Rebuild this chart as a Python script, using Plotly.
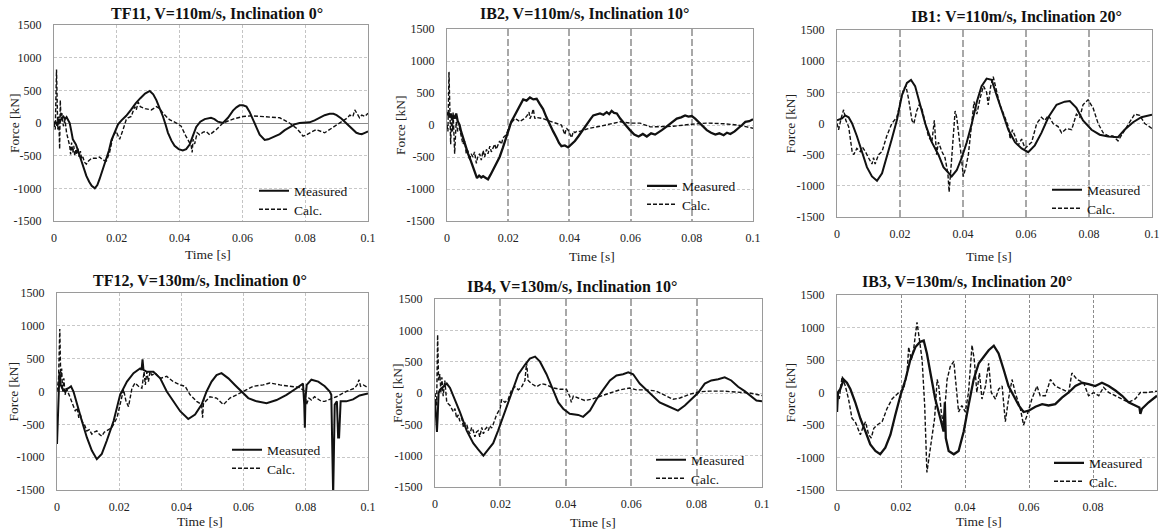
import plotly.graph_objects as go

W, H = 1163, 532

# ---------------- DATA ----------------
x_tick_vals = [0, 0.02, 0.04, 0.06, 0.08, 0.1]
x_tick_labels = ["0", "0.02", "0.04", "0.06", "0.08", "0.1"]
y_tick_vals = [-1500, -1000, -500, 0, 500, 1000, 1500]
y_tick_labels = ["-1500", "-1000", "-500", "0", "500", "1000", "1500"]

titles = ["TF11, V=110m/s, Inclination 0°", "IB2, V=110m/s, Inclination 10°",
          "IB1: V=110m/s, Inclination 20°", "TF12, V=130m/s, Inclination 0°",
          "IB4, V=130m/s, Inclination 10°", "IB3, V=130m/s, Inclination 20°"]
series_names = ["Measured", "Calc."]

# TF11
tf11_meas_t = [0, 0.0005, 0.001, 0.0015, 0.002, 0.0025, 0.003, 0.0035, 0.004, 0.0045, 0.005, 0.0055, 0.006, 0.007, 0.0078, 0.0087, 0.0095, 0.0103, 0.0112, 0.012, 0.013, 0.0138, 0.0145, 0.0156, 0.0167, 0.0175, 0.0183, 0.0194, 0.0204, 0.0215, 0.023, 0.0245, 0.026, 0.0275, 0.029, 0.0305, 0.0316, 0.0326, 0.0337, 0.0347, 0.0355, 0.0363, 0.0374, 0.0384, 0.0397, 0.041, 0.0421, 0.0432, 0.0442, 0.0453, 0.0466, 0.048, 0.050, 0.0511, 0.0522, 0.0538, 0.0554, 0.057, 0.0581, 0.0591, 0.0602, 0.0613, 0.0623, 0.0634, 0.0645, 0.0655, 0.0671, 0.0682, 0.0692, 0.0705, 0.0719, 0.0735, 0.075, 0.0766, 0.0782, 0.0798, 0.0814, 0.083, 0.0846, 0.0862, 0.0878, 0.089, 0.09, 0.0915, 0.093, 0.0946, 0.0963, 0.0972, 0.098, 0.099, 0.1]
tf11_meas_f = [0, 20, -40, 60, 30, 80, 100, 60, 90, 40, 0, -120, -250, -330, -450, -560, -690, -810, -900, -960, -1000, -950, -860, -700, -560, -420, -260, -120, -20, 40, 110, 200, 300, 380, 450, 490, 440, 350, 230, 100, -20, -150, -270, -350, -400, -420, -400, -330, -200, -60, 20, 60, 80, 60, 20, 0, 80, 190, 240, 270, 270, 250, 170, 60, -70, -180, -260, -250, -230, -200, -170, -110, -60, -20, 0, 5, 10, 40, 80, 120, 140, 140, 120, 70, 0, -70, -150, -165, -170, -150, -130]
tf11_calc_t = [0, 0.0004, 0.0008, 0.001, 0.0012, 0.0015, 0.0018, 0.002, 0.0022, 0.0025, 0.003, 0.0035, 0.004, 0.0045, 0.005, 0.0053, 0.0056, 0.006, 0.0063, 0.0066, 0.007, 0.0073, 0.0076, 0.008, 0.0084, 0.0088, 0.0092, 0.0097, 0.0103, 0.011, 0.012, 0.0135, 0.0145, 0.0156, 0.0167, 0.0177, 0.0188, 0.0198, 0.0209, 0.022, 0.023, 0.0236, 0.0246, 0.0257, 0.0262, 0.0268, 0.0275, 0.029, 0.031, 0.0326, 0.0337, 0.0347, 0.0368, 0.039, 0.0405, 0.042, 0.043, 0.0437, 0.044, 0.0443, 0.0448, 0.0456, 0.0464, 0.0475, 0.0485, 0.0496, 0.0517, 0.0538, 0.057, 0.0602, 0.063, 0.0676, 0.0719, 0.075, 0.0772, 0.0785, 0.0793, 0.0804, 0.0814, 0.0835, 0.0862, 0.0883, 0.091, 0.0935, 0.0942, 0.0952, 0.0958, 0.0965, 0.0973, 0.098, 0.099, 0.1]
tf11_calc_f = [0, -100, 820, 200, -100, 100, -400, 350, 100, 150, -50, 50, -150, -250, -350, -480, -300, -450, -350, -500, -400, -480, -380, -520, -430, -550, -520, -600, -630, -580, -540, -540, -520, -570, -580, -450, -200, -130, -250, -100, 50, 80, 100, 250, 200, 320, 250, 220, 200, 250, 220, 150, 50, 0, -50, -200, -280, -350, -450, -250, -320, -150, -180, -140, -130, -180, -100, 0, 60, 100, 110, 100, 80, 0, -80, -150, -200, -180, -150, -100, -150, -80, 0, 80, 120, 100, 200, 150, 80, 120, 100, 150]

# IB2
ib2_meas_t = [0, 0.0005, 0.0009, 0.0013, 0.0017, 0.002, 0.0025, 0.003, 0.0035, 0.0041, 0.0046, 0.0052, 0.006, 0.0069, 0.0077, 0.0085, 0.0092, 0.0098, 0.0105, 0.0112, 0.0118, 0.0126, 0.0134, 0.0142, 0.015, 0.016, 0.0172, 0.0183, 0.0194, 0.0202, 0.021, 0.0218, 0.0227, 0.0238, 0.0249, 0.026, 0.0271, 0.0282, 0.0293, 0.0303, 0.0314, 0.0325, 0.0336, 0.0347, 0.0358, 0.0366, 0.0374, 0.0385, 0.0396, 0.0407, 0.0418, 0.0429, 0.044, 0.0451, 0.0462, 0.047, 0.0478, 0.0489, 0.05, 0.0511, 0.0522, 0.053, 0.0538, 0.0546, 0.0555, 0.0566, 0.0576, 0.0587, 0.0598, 0.0612, 0.0626, 0.064, 0.0653, 0.0667, 0.068, 0.0691, 0.0702, 0.0713, 0.0724, 0.0738, 0.0751, 0.0765, 0.0778, 0.0789, 0.08, 0.0811, 0.0822, 0.0835, 0.0849, 0.0863, 0.0877, 0.089, 0.0904, 0.0915, 0.0926, 0.094, 0.0953, 0.0964, 0.0975, 0.0988, 0.1]
ib2_meas_f = [150, 200, 120, 180, 90, 150, 100, 180, 60, 0, -100, -200, -320, -450, -550, -650, -750, -830, -790, -820, -800, -830, -850, -780, -700, -620, -500, -350, -200, -80, 50, 120, 200, 300, 400, 380, 430, 400, 410, 330, 250, 120, 0, -100, -200, -280, -330, -320, -350, -300, -250, -180, -100, -40, 50, 100, 150, 170, 180, 160, 200, 170, 220, 190, 180, 100, 50, -20, -80, -150, -180, -140, -180, -130, -150, -120, -80, -40, 0, 60, 100, 120, 150, 130, 140, 100, 50, -20, -80, -120, -150, -130, -160, -120, -140, -100, -50, 0, 50, 60, 90]
ib2_calc_t = [0, 0.0003, 0.00065, 0.001, 0.0012, 0.0015, 0.0018, 0.002, 0.0025, 0.003, 0.0035, 0.0041, 0.0047, 0.0052, 0.0058, 0.0063, 0.0068, 0.0074, 0.0079, 0.0085, 0.009, 0.0096, 0.0101, 0.0107, 0.0112, 0.0118, 0.0123, 0.0129, 0.0134, 0.014, 0.0145, 0.015, 0.0156, 0.0161, 0.0167, 0.0172, 0.0178, 0.0183, 0.0194, 0.0205, 0.0213, 0.0222, 0.023, 0.0238, 0.0246, 0.0254, 0.0262, 0.0268, 0.0271, 0.0276, 0.0282, 0.0287, 0.029, 0.0298, 0.0314, 0.0336, 0.0358, 0.0374, 0.0385, 0.039, 0.0396, 0.0402, 0.0407, 0.0413, 0.0418, 0.0424, 0.0435, 0.0445, 0.0467, 0.05, 0.0533, 0.0566, 0.0598, 0.0631, 0.0664, 0.0697, 0.074, 0.0795, 0.0849, 0.0904, 0.0948, 0.098, 0.1]
ib2_calc_f = [0, -100, 830, 100, -300, 150, -100, 200, -450, 50, -100, -50, -200, -300, -250, -450, -400, -550, -450, -500, -420, -600, -480, -450, -550, -400, -500, -380, -450, -330, -420, -350, -300, -380, -300, -250, -300, -200, -150, 0, 50, 100, 80, 50, 80, 100, 150, 200, 100, 150, 250, 100, 120, 110, 100, 60, 30, 0, -150, -50, -80, -150, -200, -100, -120, -100, -100, -80, -50, -20, 20, 50, 30, 30, -30, -30, -20, 10, 30, 20, 0, -30, -50]

# IB1
ib1_meas_t = [0, 0.0016, 0.0026, 0.0037, 0.0048, 0.0063, 0.0079, 0.0095, 0.0111, 0.0127, 0.0143, 0.0158, 0.0174, 0.019, 0.0206, 0.0222, 0.0235, 0.0248, 0.0264, 0.028, 0.0301, 0.0322, 0.0338, 0.0354, 0.0364, 0.038, 0.0396, 0.0412, 0.0428, 0.0444, 0.0459, 0.0475, 0.0491, 0.0507, 0.0523, 0.0544, 0.0565, 0.0586, 0.0607, 0.0628, 0.0649, 0.0671, 0.0697, 0.0723, 0.0739, 0.076, 0.0781, 0.0808, 0.0834, 0.0861, 0.0892, 0.0913, 0.094, 0.0966, 0.1]
ib1_meas_f = [50, 80, 130, 100, 0, -200, -450, -700, -850, -920, -800, -550, -250, 50, 450, 650, 700, 600, 300, 0, -300, -500, -700, -800, -850, -750, -550, -300, 0, 350, 600, 720, 700, 450, 200, -100, -300, -400, -460, -350, -150, 100, 300, 350, 360, 250, 50, -100, -180, -210, -220, -100, 20, 100, 140]
ib1_calc_t = [0, 0.0005, 0.0014, 0.0021, 0.0028, 0.0037, 0.0048, 0.0053, 0.0063, 0.0074, 0.0081, 0.009, 0.01, 0.0111, 0.0116, 0.0121, 0.0132, 0.0143, 0.0158, 0.0174, 0.019, 0.02, 0.0211, 0.0219, 0.0227, 0.0238, 0.0244, 0.0253, 0.0261, 0.0269, 0.028, 0.029, 0.0301, 0.0309, 0.0316, 0.0322, 0.0333, 0.0343, 0.0352, 0.0356, 0.0362, 0.037, 0.0375, 0.038, 0.0388, 0.0394, 0.0401, 0.0409, 0.0417, 0.0428, 0.0435, 0.0444, 0.0454, 0.0465, 0.0475, 0.048, 0.0488, 0.0496, 0.0507, 0.0517, 0.0533, 0.0544, 0.055, 0.0557, 0.0565, 0.0575, 0.0586, 0.0597, 0.0607, 0.0618, 0.0634, 0.0649, 0.066, 0.0671, 0.0686, 0.0702, 0.0713, 0.0729, 0.0745, 0.076, 0.0771, 0.0781, 0.0797, 0.0813, 0.0829, 0.0845, 0.0861, 0.0876, 0.0892, 0.0908, 0.0924, 0.0945, 0.0961, 0.0977, 0.1]
ib1_calc_f = [0, -100, 100, 220, 50, -50, -450, -500, -400, -450, -380, -450, -550, -650, -550, -650, -500, -450, -200, 0, 100, 300, 550, 600, 400, 50, 0, 200, 300, 250, 0, -200, -300, 50, -500, -300, -450, -550, -800, -1100, -700, -200, 200, 100, -200, -500, -850, -700, -500, 0, 350, 150, 400, 600, 500, 300, 600, 750, 500, 300, 100, -50, -250, -100, -200, -350, -250, -400, -350, -300, 0, 100, 50, 130, 0, -50, -150, -80, -100, 150, 100, 300, 380, 250, 0, -150, -200, -200, -280, -150, 0, 150, 130, 0, -80]

# TF12
tf12_meas_t = [0, 0.0002, 0.0005, 0.0008, 0.0012, 0.0016, 0.002, 0.0027, 0.0032, 0.0037, 0.0045, 0.0053, 0.0064, 0.008, 0.0096, 0.0112, 0.0128, 0.0144, 0.016, 0.0182, 0.0203, 0.0225, 0.0246, 0.0267, 0.0272, 0.0275, 0.0278, 0.0289, 0.031, 0.0332, 0.0353, 0.0374, 0.0396, 0.0422, 0.0444, 0.0465, 0.0481, 0.0497, 0.0513, 0.0529, 0.0551, 0.0572, 0.0594, 0.0615, 0.0642, 0.0674, 0.0706, 0.0738, 0.077, 0.0791, 0.0795, 0.0797, 0.0799, 0.0803, 0.0818, 0.084, 0.0861, 0.0877, 0.0882, 0.0885, 0.0888, 0.0893, 0.09, 0.0904, 0.0907, 0.0912, 0.093, 0.0952, 0.0973, 0.1]
tf12_meas_f = [-800, -500, 0, 300, 100, 50, 20, 0, 40, 50, 80, 0, -200, -450, -700, -900, -1030, -950, -750, -450, -50, 150, 280, 350, 330, 490, 330, 300, 300, 200, 0, -150, -300, -420, -350, -200, 0, 150, 250, 280, 200, 100, 0, -100, -150, -180, -130, -50, 50, 120, -200, -550, -100, 100, 180, 150, 80, 0, -50, -1600, -1600, -200, -150, -700, -700, -150, -150, -120, -60, -30]
tf12_calc_t = [0, 0.0005, 0.0009, 0.0012, 0.0015, 0.0018, 0.0022, 0.0026, 0.003, 0.0035, 0.0043, 0.0051, 0.0059, 0.0065, 0.007, 0.0075, 0.008, 0.0088, 0.0096, 0.0104, 0.0112, 0.012, 0.0128, 0.0136, 0.0144, 0.0152, 0.016, 0.0176, 0.0193, 0.0203, 0.0214, 0.0222, 0.023, 0.0241, 0.0251, 0.0262, 0.0273, 0.028, 0.0284, 0.0289, 0.0294, 0.0299, 0.0305, 0.0316, 0.0332, 0.0353, 0.0374, 0.0396, 0.0412, 0.0428, 0.0449, 0.0465, 0.0468, 0.0472, 0.0478, 0.0492, 0.0513, 0.0535, 0.0556, 0.0578, 0.0599, 0.0631, 0.0663, 0.0684, 0.0717, 0.0749, 0.0781, 0.0797, 0.0802, 0.081, 0.0818, 0.0828, 0.084, 0.085, 0.0861, 0.0877, 0.0898, 0.093, 0.0957, 0.0965, 0.0971, 0.0976, 0.0985, 0.1]
tf12_calc_f = [0, 200, 950, 200, 350, 0, 200, -50, 50, 0, -100, -200, -300, -250, -400, -350, -450, -500, -600, -580, -650, -620, -600, -650, -680, -620, -600, -550, -400, -200, 30, -150, -230, 50, 130, 80, 50, 300, 100, 300, 150, 300, 250, 280, 200, 230, 150, 100, 80, -50, -150, -200, -400, -100, -150, -80, -100, -200, -100, -50, 0, 80, 100, 130, 100, 80, 60, 0, -200, -100, -130, -80, -120, -150, -150, -120, -80, 0, 50, 100, 180, 80, 100, 60]

# IB4
ib4_meas_t = [0, 0.0003, 0.0006, 0.0008, 0.0011, 0.0015, 0.0025, 0.0036, 0.0046, 0.0061, 0.0076, 0.0097, 0.0117, 0.0132, 0.0148, 0.0163, 0.0178, 0.0193, 0.0214, 0.0234, 0.0255, 0.0275, 0.029, 0.0306, 0.0321, 0.0341, 0.0362, 0.0377, 0.0392, 0.0412, 0.0438, 0.0453, 0.0474, 0.0494, 0.0514, 0.0535, 0.0555, 0.0575, 0.0591, 0.0606, 0.0626, 0.0647, 0.0667, 0.0687, 0.0708, 0.0728, 0.0743, 0.0764, 0.0784, 0.0804, 0.0825, 0.0845, 0.0866, 0.0886, 0.0906, 0.0927, 0.0947, 0.0967, 0.0983, 0.1]
ib4_meas_f = [-100, -500, -620, -400, 0, 50, 100, 150, 80, -100, -300, -600, -800, -900, -1000, -900, -800, -600, -300, 0, 300, 450, 550, 580, 500, 300, 50, -150, -250, -330, -350, -380, -280, -100, 50, 200, 280, 300, 330, 300, 150, 50, -50, -150, -200, -250, -280, -200, -100, 0, 150, 200, 220, 250, 200, 100, 30, -50, -120, -130]
ib4_calc_t = [0, 0.0005, 0.0008, 0.0011, 0.0015, 0.0018, 0.0021, 0.0025, 0.003, 0.0036, 0.0046, 0.0056, 0.0061, 0.0066, 0.0071, 0.0076, 0.0082, 0.0087, 0.0092, 0.0097, 0.0102, 0.0107, 0.0112, 0.0117, 0.0122, 0.0127, 0.0132, 0.0137, 0.0143, 0.0148, 0.0153, 0.0158, 0.0163, 0.0168, 0.0173, 0.0178, 0.0188, 0.0199, 0.0204, 0.0214, 0.0224, 0.0234, 0.0244, 0.0255, 0.0265, 0.0275, 0.028, 0.0285, 0.0295, 0.0311, 0.0326, 0.0341, 0.0362, 0.0382, 0.0402, 0.0412, 0.0417, 0.0423, 0.0438, 0.0458, 0.0479, 0.0504, 0.0535, 0.0565, 0.0596, 0.0616, 0.0647, 0.0677, 0.0708, 0.0728, 0.0749, 0.0779, 0.081, 0.084, 0.0881, 0.0921, 0.0962, 0.1]
ib4_calc_f = [0, -200, 930, 200, 300, 0, 250, -50, 200, -150, -200, -300, -250, -400, -350, -450, -400, -550, -480, -500, -600, -650, -550, -600, -700, -620, -600, -700, -550, -650, -580, -550, -600, -520, -560, -500, -350, -250, -100, -150, -100, 50, 100, 50, 100, 200, 480, 200, 150, 100, 150, 130, 80, 60, 60, -50, -150, -50, -80, -120, -100, -50, 0, 50, 80, 50, 50, 30, -50, -100, -80, -20, 20, 30, 30, 20, 0, -40]

# IB3
ib3_meas_t = [0, 0.0003, 0.001, 0.0021, 0.0031, 0.0042, 0.0057, 0.0073, 0.0089, 0.0104, 0.012, 0.0135, 0.0151, 0.0167, 0.0182, 0.0198, 0.0214, 0.0229, 0.0245, 0.026, 0.0271, 0.0281, 0.0292, 0.0307, 0.0323, 0.0333, 0.0337, 0.034, 0.0349, 0.0365, 0.038, 0.0396, 0.0411, 0.0427, 0.0443, 0.0458, 0.0474, 0.049, 0.0505, 0.0521, 0.0536, 0.0552, 0.0568, 0.0583, 0.0599, 0.062, 0.0641, 0.0661, 0.0682, 0.0703, 0.0724, 0.0745, 0.0766, 0.0786, 0.0807, 0.0828, 0.0849, 0.087, 0.0891, 0.0911, 0.0932, 0.0945, 0.0948, 0.0953, 0.0974, 0.1]
ib3_meas_f = [-300, 0, 50, 200, 150, 50, -150, -400, -600, -800, -900, -950, -850, -650, -350, -50, 200, 500, 700, 780, 800, 600, 300, -100, -400, -600, -150, -700, -900, -950, -900, -600, -200, 200, 450, 550, 650, 720, 600, 350, 100, -50, -200, -300, -280, -220, -180, -200, -180, -80, 0, 100, 150, 130, 100, 150, 100, 30, -50, -150, -200, -230, -330, -250, -150, -50]
ib3_calc_t = [0, 0.0007, 0.0016, 0.0026, 0.0036, 0.0047, 0.0057, 0.0073, 0.008, 0.0089, 0.0099, 0.0107, 0.0115, 0.0125, 0.0141, 0.0156, 0.0172, 0.0193, 0.0208, 0.0219, 0.0224, 0.0232, 0.0239, 0.025, 0.0258, 0.0266, 0.0274, 0.0281, 0.0289, 0.0297, 0.0305, 0.0313, 0.0318, 0.0326, 0.0333, 0.0344, 0.0354, 0.0365, 0.0375, 0.038, 0.039, 0.0401, 0.0411, 0.0422, 0.0429, 0.0437, 0.0445, 0.0453, 0.0464, 0.0474, 0.0482, 0.0495, 0.0505, 0.0516, 0.0526, 0.0536, 0.0547, 0.0557, 0.0573, 0.0583, 0.0594, 0.0609, 0.0625, 0.0635, 0.0651, 0.0667, 0.0682, 0.0703, 0.0724, 0.0734, 0.075, 0.0771, 0.0786, 0.0802, 0.0818, 0.0833, 0.0849, 0.087, 0.0891, 0.0911, 0.0932, 0.0948, 0.0969, 0.1]
ib3_calc_f = [0, -100, 250, 100, -100, -400, -450, -650, -550, -450, -650, -700, -550, -500, -450, -250, -100, 0, 50, 300, 700, 500, 650, 1080, 800, 500, -200, -1230, -950, -700, -400, 200, 100, -300, -500, 200, 400, 480, 0, -300, -200, -300, 0, 730, 500, 0, 300, -100, 100, 450, 0, -100, 50, 100, -450, -100, 200, 0, -250, -500, -350, -100, 100, -50, -50, 200, 100, 50, 0, 300, 200, 150, -50, 0, -50, 80, 0, -50, -100, -150, -100, 0, 0, 20]

meas_t = [tf11_meas_t, ib2_meas_t, ib1_meas_t, tf12_meas_t, ib4_meas_t, ib3_meas_t]
meas_f = [tf11_meas_f, ib2_meas_f, ib1_meas_f, tf12_meas_f, ib4_meas_f, ib3_meas_f]
calc_t = [tf11_calc_t, ib2_calc_t, ib1_calc_t, tf12_calc_t, ib4_calc_t, ib3_calc_t]
calc_f = [tf11_calc_f, ib2_calc_f, ib1_calc_f, tf12_calc_f, ib4_calc_f, ib3_calc_f]

# ---------------- LAYOUT (pixel boxes) ----------------
boxes = [(54, 368, 25, 221), (447, 753, 29, 221), (837, 1152, 30, 217),
         (57, 368, 293, 490), (435, 762, 299, 487), (837, 1157, 295, 490)]
title_pos = [(217, 14), (584, 14), (1016, 16), (200, 280), (572, 286), (967, 281)]
xtitle_pos = [(208, 254), (592, 256), (989, 256), (200, 521), (593, 522), (979, 521)]
ytitle_x = [15, 400, 790, 13, 397, 790]
legend_pos = [(295, 191), (683, 186), (1088, 190), (268, 450), (692, 460), (1090, 463)]
legend_gap = 18.5
meas_width = [2.0, 2.3, 2.0, 2.0, 2.0, 2.3]
# grid style: 'A' light short dash + solid zero line, 'B' long-dash vertical, 'C' short-dash darker vertical
grid_style = ['A', 'B', 'B', 'A', 'B', 'C']

SERIF = "Liberation Serif, Times New Roman, serif"
fig = go.Figure()
annotations = []
layout = dict(template="none", width=W, height=H, autosize=False,
              margin=dict(l=0, r=0, t=0, b=0, pad=0),
              paper_bgcolor="white", plot_bgcolor="white", showlegend=True,
              font=dict(family=SERIF, size=12, color="#222"))

for i in range(6):
    n = i + 1
    sfx = "" if n == 1 else str(n)
    x0, x1, y0, y1 = boxes[i]
    xd = [x0 / W, x1 / W]
    yd = [1 - y1 / H, 1 - y0 / H]
    st = grid_style[i]
    if st == 'A':
        vgc, vdash, vw = "#c4c4c4", "3px,2px", 1
    elif st == 'B':
        vgc, vdash, vw = "#a8a8a8", "7px,3px", 1.5
    else:
        vgc, vdash, vw = "#8c8c8c", "3px,2px", 1
    layout["xaxis" + sfx] = dict(
        domain=xd, range=[0, 0.1], anchor="y" + sfx, automargin=False,
        tickvals=x_tick_vals, ticktext=x_tick_labels,
        showgrid=True, gridcolor=vgc, griddash=vdash, gridwidth=vw,
        showline=True, mirror=True, linecolor="#9a9a9a", linewidth=1.2,
        zeroline=False, ticks="", ticklabelstandoff=5,
        tickfont=dict(family=SERIF, size=12, color="#222"), fixedrange=True)
    layout["yaxis" + sfx] = dict(
        domain=yd, range=[-1500, 1500], anchor="x" + sfx, automargin=False,
        tickvals=y_tick_vals, ticktext=y_tick_labels,
        showgrid=True, gridcolor="#c8c8c8", griddash="3px,2px", gridwidth=1,
        showline=True, mirror=True, linecolor="#9a9a9a", linewidth=1.2,
        zeroline=(st == 'A'), zerolinecolor="#8a8a8a", zerolinewidth=1,
        ticks="", ticklabelstandoff=9,
        tickfont=dict(family=SERIF, size=12, color="#222"), fixedrange=True)

    tx, ty = legend_pos[i]
    lgm = "legend" + ("" if i == 0 else str(2 * i + 1))
    lgc = "legend" + str(2 * i + 2)
    for lg, yy in ((lgm, ty), (lgc, ty + legend_gap)):
        layout[lg] = dict(x=(tx - 41) / W, y=1 - yy / H, xanchor="left", yanchor="middle",
                          bgcolor="rgba(0,0,0,0)", borderwidth=0, tracegroupgap=0,
                          font=dict(family=SERIF, size=13.5, color="#111"))

    fig.add_trace(go.Scatter(x=meas_t[i], y=meas_f[i], mode="lines", name=series_names[0],
                             xaxis="x" + sfx, yaxis="y" + sfx, legend=lgm,
                             line=dict(color="#111", width=meas_width[i])))
    fig.add_trace(go.Scatter(x=calc_t[i], y=calc_f[i], mode="lines", name=series_names[1],
                             xaxis="x" + sfx, yaxis="y" + sfx, legend=lgc,
                             line=dict(color="#111", width=1.4, dash="4px,2px")))

    annotations.append(dict(text="<b>" + titles[i] + "</b>", x=title_pos[i][0] / W, y=1 - title_pos[i][1] / H,
                            xref="paper", yref="paper", showarrow=False, xanchor="center", yanchor="middle",
                            font=dict(family=SERIF, size=16, color="#111")))
    annotations.append(dict(text="Time [s]", x=xtitle_pos[i][0] / W, y=1 - xtitle_pos[i][1] / H,
                            xref="paper", yref="paper", showarrow=False, xanchor="center", yanchor="middle",
                            font=dict(family=SERIF, size=13.5, color="#222")))
    annotations.append(dict(text="Force [kN]", x=ytitle_x[i] / W, y=1 - ((y0 + y1) / 2) / H,
                            xref="paper", yref="paper", showarrow=False, xanchor="center", yanchor="middle",
                            textangle=-90, font=dict(family=SERIF, size=13.5, color="#222")))

layout["annotations"] = annotations
fig.update_layout(**layout)
fig.write_html("out.html", config={"displayModeBar": False, "responsive": False},
               post_script="document.body.style.margin='0';document.body.style.overflow='hidden';")
